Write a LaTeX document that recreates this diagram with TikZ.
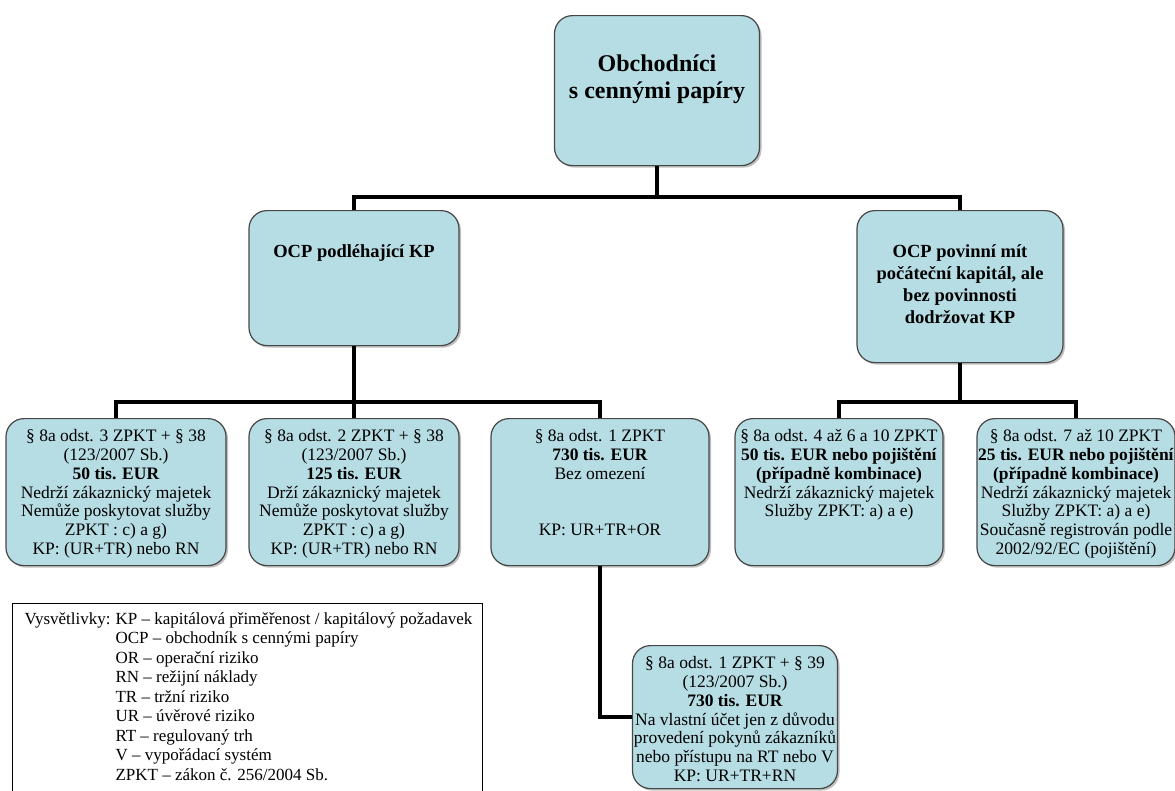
\documentclass[tikz,border=0pt]{standalone}
\usepackage{fontspec}
\setmainfont{Liberation Serif}
\usetikzlibrary{calc,shadows}
\definecolor{boxfill}{RGB}{183,221,228}
\definecolor{boxline}{RGB}{70,70,70}
\newcommand{\ocptext}[4]{\parbox[c][#1][t]{#2}{\centering\vspace*{#3}#4\par}}
\tikzset{
  ocpbox/.style={draw=boxline, fill=boxfill, line width=1.2pt, rounded corners=18pt, inner sep=0pt, anchor=north, font=\fontsize{17.5}{18.8}\selectfont,
    drop shadow={shadow xshift=2pt, shadow yshift=-2pt, opacity=.25, fill=black}},
  headbox/.style={ocpbox, font=\fontsize{18.5}{22}\selectfont\bfseries},
  legendbox/.style={draw=black, line width=1.2pt, inner sep=0pt, anchor=north west, font=\fontsize{17}{19.5}\selectfont},
  conn/.style={line width=3.8pt},
}
\begin{document}
\begin{tikzpicture}[x=1pt, y=-1pt]
\useasboundingbox (0,0) rectangle (1175,790);
\node[headbox, font=\fontsize{24}{27}\selectfont\bfseries] (ocp) at (657,15) {\ocptext{150pt}{205pt}{39pt}{Obchodníci\\ s cennými papíry}};
\node[headbox] (ocpkp) at (354,210) {\ocptext{135pt}{210pt}{34pt}{OCP podléhající KP}};
\node[headbox] (ocpzk) at (960,210) {\ocptext{152pt}{206pt}{34pt}{OCP povinní mít\\ počáteční kapitál, ale\\ bez povinnosti\\ dodržovat KP}};
\node[ocpbox] (kp50) at (116,418) {\ocptext{147pt}{220pt}{11pt}{§ 8a odst. 3 ZPKT + § 38\\ (123/2007 Sb.)\\ \textbf{50 tis. EUR}\\ Nedrží zákaznický majetek\\ Nemůže poskytovat služby\\ ZPKT : c) a g)\\ KP: (UR+TR) nebo RN}};
\node[ocpbox] (kp125) at (354,418) {\ocptext{147pt}{210pt}{11pt}{§ 8a odst. 2 ZPKT + § 38\\ (123/2007 Sb.)\\ \textbf{125 tis. EUR}\\ Drží zákaznický majetek\\ Nemůže poskytovat služby\\ ZPKT : c) a g)\\ KP: (UR+TR) nebo RN}};
\node[ocpbox] (kp730) at (600,418) {\ocptext{147pt}{218pt}{11pt}{§ 8a odst. 1 ZPKT\\ \textbf{730 tis. EUR}\\ Bez omezení\\ ~\\ ~\\ KP: UR+TR+OR}};
\node[ocpbox] (zk50) at (839,418) {\ocptext{147pt}{208pt}{11pt}{§ 8a odst. 4 až 6 a 10 ZPKT\\ \textbf{50 tis. EUR nebo pojištění}\\ \textbf{(případně kombinace)}\\ Nedrží zákaznický majetek\\ Služby ZPKT: a) a e)}};
\node[ocpbox] (zk25) at (1076,418) {\ocptext{147pt}{198pt}{11pt}{§ 8a odst. 7 až 10 ZPKT\\ \textbf{25 tis. EUR nebo pojištění}\\ \textbf{(případně kombinace)}\\ Nedrží zákaznický majetek\\ Služby ZPKT: a) a e)\\ Současně registrován podle\\ 2002/92/EC (pojištění)}};
\node[ocpbox] (kp730v) at (735,645) {\ocptext{143pt}{205pt}{11pt}{§ 8a odst. 1 ZPKT + § 39\\ (123/2007 Sb.)\\ \textbf{730 tis. EUR}\\ Na vlastní účet jen z důvodu\\ provedení pokynů zákazníků\\ nebo přístupu na RT nebo V\\ KP: UR+TR+RN}};
\node[legendbox] (vysv) at (12,603) {\parbox[c][200pt][t]{470pt}{\vspace*{7pt}\hspace*{12pt}\begin{tabular}[t]{@{}l@{\hspace{5pt}}l@{}}
Vysvětlivky: & KP – kapitálová přiměřenost / kapitálový požadavek\\
 & OCP – obchodník s cennými papíry\\
 & OR – operační riziko\\
 & RN – režijní náklady\\
 & TR – tržní riziko\\
 & UR – úvěrové riziko\\
 & RT – regulovaný trh\\
 & V – vypořádací systém\\
 & ZPKT – zákon č. 256/2004 Sb.
\end{tabular}}};
\coordinate (bus1) at (0,197);
\coordinate (bus2) at (0,402);
\draw[conn] (ocp.south) -- (ocp.south |- bus1);
\draw[conn] (ocpkp.north) |- (ocp.south |- bus1) -| (ocpzk.north);
\draw[conn] (ocpkp.south) -- (kp125.north);
\draw[conn] (kp50.north) |- (ocpkp.south |- bus2) -| (kp730.north);
\draw[conn] (ocpzk.south) -- (ocpzk.south |- bus2);
\draw[conn] (zk50.north) |- (ocpzk.south |- bus2) -| (zk25.north);
\draw[conn] (kp730.south) |- (kp730v.west);
\end{tikzpicture}
\end{document}
